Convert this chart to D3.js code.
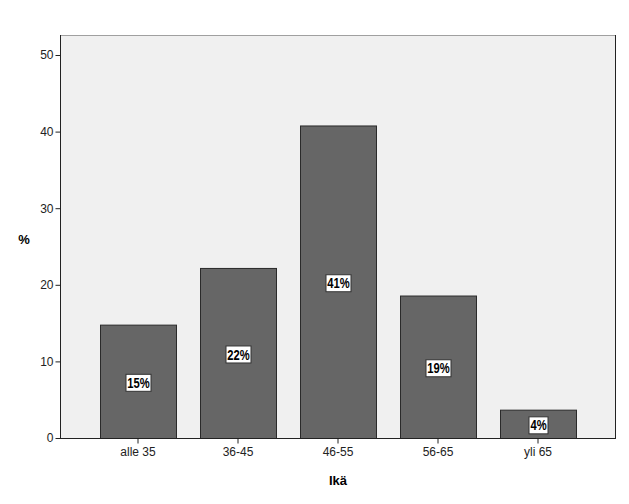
<!DOCTYPE html>
<html><head><meta charset="utf-8">
<script src="https://cdn.jsdelivr.net/npm/d3@7"></script>
<style>body{margin:0;background:#fff}svg{display:block}</style>
</head><body>
<script>
const categories = ["alle 35", "36-45", "46-55", "56-65", "yli 65"];
const values = [14.8, 22.2, 40.8, 18.6, 3.7];
const labels = ["15%", "22%", "41%", "19%", "4%"];
const yTicks = [0, 10, 20, 30, 40, 50];
const xTitle = "Ikä";
const yTitle = "%";

const W = 629, H = 504;
const L = 60, R = 616, T = 35, B = 438;
const svg = d3.select("body").append("svg").attr("width", W).attr("height", H);
const font = "Liberation Sans, Arial, sans-serif";

const x = d3.scaleBand().domain(categories).range([L, R]).paddingInner(0.24).paddingOuter(0.4);
const y = d3.scaleLinear().domain([0, (B - T) / 7.66]).range([B, T]);

svg.append("rect").attr("x", L).attr("y", T).attr("width", R - L).attr("height", B - T).attr("fill", "#f0f0f0");
svg.append("line").attr("x1", L).attr("x2", R).attr("y1", T + 0.5).attr("y2", T + 0.5).attr("stroke", "#a0a0a0");
svg.append("line").attr("x1", R - 0.5).attr("x2", R - 0.5).attr("y1", T).attr("y2", B).attr("stroke", "#222");

svg.selectAll("rect.bar").data(values).join("rect").attr("class", "bar")
  .attr("x", (d, i) => x(categories[i]) + 0.5)
  .attr("y", d => y(d) + 0.5)
  .attr("width", x.bandwidth())
  .attr("height", d => B - y(d))
  .attr("fill", "#666666").attr("stroke", "#2a2a2a").attr("stroke-width", 1);

const gy = svg.append("g").attr("transform", `translate(${L + 0.5},0)`)
  .call(d3.axisLeft(y).tickValues(yTicks).tickSize(5).tickPadding(2).tickFormat(d3.format("d")));
gy.select(".domain").attr("stroke", "#222").attr("d", `M0,${T}V${B}`);
gy.selectAll(".tick line").attr("stroke", "#222");
gy.selectAll(".tick text").attr("font-family", font).attr("font-size", 12).attr("fill", "#222");

const gx = svg.append("g").attr("transform", `translate(0,${B + 0.5})`)
  .call(d3.axisBottom(x).tickSize(5).tickPadding(4));
gx.select(".domain").attr("stroke", "#222").attr("d", `M${L},0H${R}`);
gx.selectAll(".tick line").attr("stroke", "#222");
gx.selectAll(".tick text").attr("font-family", font).attr("font-size", 12).attr("fill", "#222");

const lab = svg.selectAll("g.lab").data(values).join("g").attr("class", "lab")
  .attr("transform", (d, i) => `translate(${x(categories[i]) + x.bandwidth() / 2 + 0.5},${(y(d) + B) / 2 + 1.5})`);
lab.append("text").attr("text-anchor", "middle").attr("dy", "0.36em")
  .attr("font-family", font).attr("font-size", 14).attr("font-weight", "bold").attr("fill", "#000")
  .attr("transform", "scale(0.8,1)")
  .text((d, i) => labels[i]);
lab.each(function () {
  const g = d3.select(this);
  const bb = g.select("text").node().getBBox();
  const w = bb.width * 0.8 + 3, h = 17;
  g.insert("rect", "text").attr("x", Math.round(-w / 2) + 0.5).attr("y", -8.5).attr("width", Math.round(w)).attr("height", h)
    .attr("fill", "#fff").attr("stroke", "#333");
});

svg.append("text").attr("x", 24).attr("y", 244).attr("text-anchor", "middle")
  .attr("font-family", font).attr("font-size", 13).attr("font-weight", "bold").text(yTitle);
svg.append("text").attr("x", 338).attr("y", 485).attr("text-anchor", "middle")
  .attr("font-family", font).attr("font-size", 13).attr("font-weight", "bold").text(xTitle);
</script>
</body></html>
